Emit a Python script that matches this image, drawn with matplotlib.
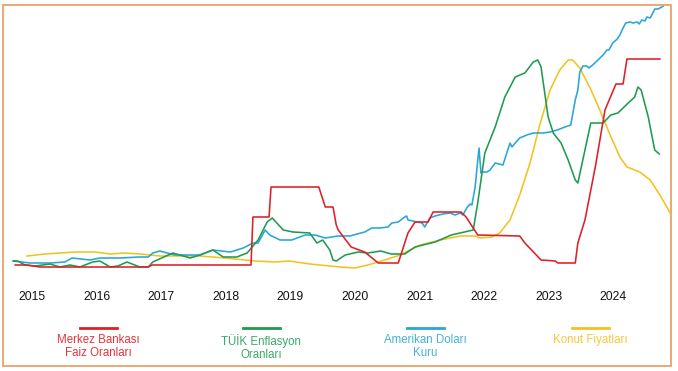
import matplotlib
matplotlib.use("Agg")
import matplotlib.pyplot as plt
from matplotlib.patches import Rectangle
from matplotlib.lines import Line2D

W, H = 678, 371

# ---- data (x in decimal years, y as relative index) ----
years = [2015, 2016, 2017, 2018, 2019, 2020, 2021, 2022, 2023, 2024]

red_x = [2014.74, 2014.92, 2015.12, 2016.80, 2016.86, 2018.39, 2018.42, 2018.67, 2018.70,
         2019.44, 2019.54, 2019.66, 2019.71, 2019.74, 2019.94, 2020.15, 2020.36, 2020.67,
         2020.82, 2020.93, 2021.13, 2021.21, 2021.64, 2021.72, 2021.90, 2022.55, 2022.63,
         2022.88, 2023.10, 2023.14, 2023.41, 2023.45, 2023.56, 2023.72, 2023.87, 2024.04,
         2024.15, 2024.21, 2024.72]
red_y = [5, 5, 3, 3, 5, 5, 53, 53, 83, 83, 63, 63, 45, 40, 23, 18, 7, 7, 37, 48, 48, 58,
         58, 53, 35, 34, 27, 10, 9, 7, 7, 27, 50, 103, 160, 186, 186, 211, 211]

green_x = [2014.71, 2014.78, 2014.89, 2015.05, 2015.28, 2015.43, 2015.59, 2015.74, 2015.94,
           2016.05, 2016.21, 2016.33, 2016.47, 2016.67, 2016.80, 2016.87, 2017.18, 2017.45,
           2017.60, 2017.80, 2017.96, 2018.17, 2018.33, 2018.50, 2018.64, 2018.72, 2018.79,
           2018.89, 2019.04, 2019.30, 2019.41, 2019.50, 2019.61, 2019.66, 2019.71, 2019.85,
           2020.05, 2020.20, 2020.40, 2020.56, 2020.77, 2020.93, 2021.24, 2021.49, 2021.83,
           2021.90, 2022.01, 2022.17, 2022.32, 2022.48, 2022.63, 2022.76, 2022.83, 2022.88,
           2022.99, 2023.07, 2023.19, 2023.30, 2023.41, 2023.45, 2023.56, 2023.65, 2023.84,
           2023.96, 2024.07, 2024.23, 2024.33, 2024.38, 2024.43, 2024.54, 2024.64, 2024.71]
green_y = [9, 9, 5, 4, 6, 3, 5, 3, 8, 9, 3, 4, 8, 3, 3, 8, 17, 12, 15, 20, 13, 13, 17, 30,
           48, 52, 47, 40, 38, 37, 27, 30, 20, 10, 9, 15, 18, 17, 19, 16, 16, 23, 28, 35, 40,
           67, 117, 143, 173, 193, 197, 208, 210, 203, 153, 137, 127, 110, 90, 87, 120, 147,
           147, 155, 157, 167, 173, 183, 180, 153, 120, 116]

blue_x = [2014.71, 2014.97, 2015.28, 2015.51, 2015.62, 2015.90, 2016.05, 2016.36, 2016.67,
          2016.80, 2016.87, 2016.98, 2017.21, 2017.60, 2017.80, 2018.07, 2018.27, 2018.42,
          2018.50, 2018.61, 2018.68, 2018.84, 2019.02, 2019.23, 2019.38, 2019.54, 2019.74,
          2019.92, 2020.15, 2020.26, 2020.39, 2020.51, 2020.57, 2020.67, 2020.77, 2020.80,
          2020.82, 2020.90, 2020.96, 2021.04, 2021.08, 2021.16, 2021.24, 2021.36, 2021.47,
          2021.55, 2021.63, 2021.67, 2021.73, 2021.78, 2021.81, 2021.86, 2021.89, 2021.92,
          2021.95, 2021.98, 2022.04, 2022.09, 2022.17, 2022.29, 2022.35, 2022.40, 2022.43,
          2022.48, 2022.55, 2022.66, 2022.76, 2022.91, 2023.02, 2023.13, 2023.25, 2023.34,
          2023.41, 2023.45, 2023.48, 2023.53, 2023.59, 2023.62, 2023.68, 2023.76, 2023.84,
          2023.90, 2023.93, 2023.99, 2024.06, 2024.10, 2024.15, 2024.19, 2024.26, 2024.30,
          2024.37, 2024.40, 2024.44, 2024.49, 2024.52, 2024.57, 2024.61, 2024.64, 2024.69,
          2024.75, 2024.77]
blue_y = [9, 7, 7, 8, 12, 10, 12, 12, 13, 13, 17, 19, 15, 15, 20, 18, 22, 27, 27, 40, 35,
          30, 30, 35, 35, 32, 34, 34, 38, 42, 42, 43, 47, 48, 53, 54, 50, 49, 48, 47, 43, 52,
          54, 56, 57, 55, 57, 55, 62, 66, 65, 83, 103, 122, 97, 98, 98, 100, 107, 105, 117,
          127, 123, 127, 132, 135, 137, 137, 138, 140, 143, 145, 170, 180, 198, 204, 204, 202,
          205, 210, 215, 220, 220, 227, 231, 235, 242, 247, 248, 247, 248, 246, 250, 249, 253,
          252, 257, 261, 261, 263, 264]

yellow_x = [2014.92, 2015.20, 2015.43, 2015.67, 2015.98, 2016.21, 2016.44, 2016.67, 2016.98,
            2017.29, 2017.60, 2017.99, 2018.45, 2018.76, 2018.99, 2019.30, 2019.77, 2020.00,
            2020.20, 2020.46, 2020.70, 2020.85, 2021.01, 2021.32, 2021.63, 2021.86, 2021.93,
            2022.12, 2022.24, 2022.40, 2022.55, 2022.71, 2022.86, 2023.02, 2023.17, 2023.30,
            2023.37, 2023.48, 2023.64, 2023.79, 2023.95, 2024.10, 2024.21, 2024.41, 2024.57,
            2024.72, 2024.88]
yellow_y = [14, 16, 17, 18, 18, 16, 17, 16, 14, 14, 14, 12, 9, 8, 9, 6, 3, 2, 5, 10, 15, 20,
            25, 30, 34, 34, 32, 33, 37, 50, 75, 107, 145, 180, 200, 210, 210, 202, 182, 160,
            135, 113, 103, 98, 90, 75, 57]

series_labels = ["Merkez Bankası\nFaiz Oranları", "TÜİK Enflasyon\nOranları",
                 "Amerikan Doları\nKuru", "Konut Fiyatları"]

# ---- style ----
c_red, c_green, c_blue, c_yellow = "#DE1F26", "#1E9B4F", "#27A6D8", "#F3C21F"
t_red, t_green, t_blue, t_yellow = "#E2343B", "#3AAA68", "#45B1DB", "#F5C83E"

fig = plt.figure(figsize=(W / 100, H / 100), dpi=100)
fig.patch.set_facecolor("white")

# axes spanning pixels x 3..671, y 5..280 (top-origin)
ax = fig.add_axes([3 / W, (H - 280) / H, 668 / W, 275 / H])
ax.set_xlim(2014.551, 2024.892)
ax.set_ylim(-10, 265)
for s in ax.spines.values():
    s.set_visible(False)
ax.set_yticks([])
ax.set_xticks(years)
ax.set_xticklabels([str(y) for y in years], family="Liberation Sans", fontsize=8.7,
                   color="#111111")
ax.tick_params(axis="x", length=0, pad=8)
ax.patch.set_alpha(0)

lw = 1.15
ax.plot(yellow_x, yellow_y, color=c_yellow, lw=lw, solid_joinstyle="round")
ax.plot(blue_x, blue_y, color=c_blue, lw=lw, solid_joinstyle="round")
ax.plot(green_x, green_y, color=c_green, lw=lw, solid_joinstyle="round")
ax.plot(red_x, red_y, color=c_red, lw=lw, solid_joinstyle="round")

# ---- legend (manual) ----
leg_centers = [98, 261, 425, 590]
line_cols = [c_red, c_green, c_blue, c_yellow]
text_cols = [t_red, t_green, t_blue, t_yellow]
for cx, lc, tc, lab in zip(leg_centers, line_cols, text_cols, series_labels):
    yl = (H - 328) / H
    fig.add_artist(Line2D([(cx - 18.5) / W, (cx + 18.5) / W], [yl, yl],
                          color=lc, lw=2.0, transform=fig.transFigure))
    fig.text(cx / W, (H - 334) / H, lab, ha="center", va="top", color=tc,
             family="Liberation Sans", fontsize=8.3, linespacing=1.15)

# ---- orange frame ----
fig.add_artist(Rectangle((2.5 / W, (H - 366) / H), 668 / W, 361 / H,
                         transform=fig.transFigure, fill=False,
                         edgecolor="#E9A36B", lw=1.3))

fig.savefig("out.png", dpi=100, facecolor="white")
